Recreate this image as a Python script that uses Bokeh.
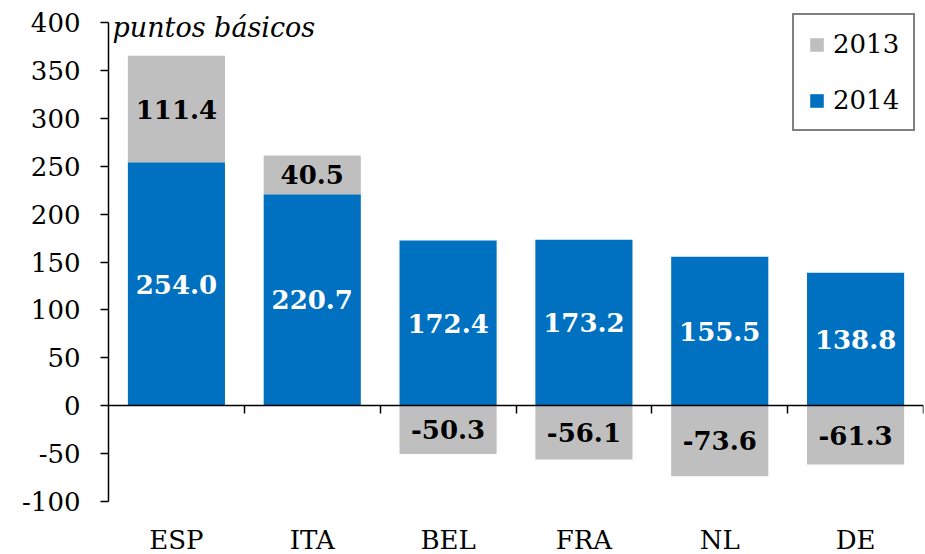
import numpy as np
from bokeh.plotting import figure
from bokeh.models import (Range1d, LinearAxis, FixedTicker, ColumnDataSource,
                          Legend, LegendItem, Label)
from bokeh.embed import file_html
from bokeh.resources import INLINE
from bokeh.core.properties import value

# ---- data ----
categories = ["ESP", "ITA", "BEL", "FRA", "NL", "DE"]
values_2014 = [254.0, 220.7, 172.4, 173.2, 155.5, 138.8]
values_2013 = [111.4, 40.5, -50.3, -56.1, -73.6, -61.3]
y_ticks = [-100, -50, 0, 50, 100, 150, 200, 250, 300, 350, 400]
series_names = ["2013", "2014"]
unit_label = "puntos básicos"

FONT = "DejaVu Serif"
BLUE = "#0070C0"
GRAY = "#BFBFBF"

n = len(categories)
xc = np.arange(n) + 0.5
v14 = np.array(values_2014)
v13 = np.array(values_2013)
g_bottom = np.where(v13 > 0, v14, 0.0)
g_top = g_bottom + v13

src = ColumnDataSource(dict(
    x=xc, v14=v14, v13=v13, g_bottom=g_bottom, g_top=g_top,
    lab14=[f"{v:.1f}" for v in v14], lab13=[f"{v:.1f}" for v in v13],
    y14=v14 / 2, y13=(g_bottom + g_top) / 2,
))

# frame spans the full top of the canvas; axis line limited to [-100, 400]
y_lo, y_hi = y_ticks[0], y_ticks[-1]
px_per_unit = 479 / (y_hi - y_lo)
top_pad_px = 22
y_end = y_hi + top_pad_px / px_per_unit

p = figure(frame_width=815, frame_height=479 + top_pad_px,
           min_border_left=108, min_border_right=2, min_border_top=0, min_border_bottom=0,
           x_range=Range1d(0, n), y_range=Range1d(y_lo, y_end),
           output_backend="svg", toolbar_location=None)
p.xgrid.visible = False
p.ygrid.visible = False
p.outline_line_color = None
p.background_fill_color = "white"
p.border_fill_color = "white"

blue = p.vbar(x="x", top="v14", bottom=0, width=0.715, source=src,
              fill_color=BLUE, line_color=None)
gray = p.vbar(x="x", top="g_top", bottom="g_bottom", width=0.715, source=src,
              fill_color=GRAY, line_color=None)

p.text(x="x", y="y14", text="lab14", source=src, text_color="white",
       text_font=value(FONT), text_font_style="bold", text_font_size="26px",
       text_align="center", text_baseline="middle")
p.text(x="x", y="y13", text="lab13", source=src, text_color="black",
       text_font=value(FONT), text_font_style="bold", text_font_size="26px",
       text_align="center", text_baseline="middle")

# y axis
ya = p.yaxis[0]
ya.bounds = (y_lo, y_hi)
ya.ticker = FixedTicker(ticks=y_ticks)
ya.major_label_overrides = {t: str(t) for t in y_ticks}
ya.minor_tick_line_color = None
ya.major_tick_in = 0
ya.major_tick_out = 8
ya.major_tick_line_width = 1.5
ya.axis_line_width = 1.5
ya.axis_line_color = "black"
ya.major_tick_line_color = "black"
ya.major_label_standoff = 20
ya.major_label_text_font = FONT
ya.major_label_text_font_size = "26px"
ya.major_label_text_color = "black"

# category label axis (bottom)
xa = p.xaxis[0]
xa.ticker = FixedTicker(ticks=list(xc))
xa.major_label_overrides = {float(x): c for x, c in zip(xc, categories)}
xa.axis_line_color = None
xa.major_tick_line_color = None
xa.minor_tick_line_color = None
xa.major_label_standoff = 17
xa.major_label_text_font = FONT
xa.major_label_text_font_size = "26px"
xa.major_label_text_color = "black"

# zero-line axis with ticks between categories
bounds_ticks = list(range(1, n + 1))
za = LinearAxis(fixed_location=0, ticker=FixedTicker(ticks=bounds_ticks))
za.major_label_overrides = {t: "" for t in bounds_ticks}
za.major_label_text_font_size = "10px"
za.major_label_standoff = 0
za.major_tick_in = 0
za.major_tick_out = 8
za.major_tick_line_width = 1.5
za.minor_tick_line_color = None
za.axis_line_width = 1.5
za.axis_line_color = "black"
za.major_tick_line_color = "black"
p.add_layout(za, "below")

# unit label
p.add_layout(Label(x=0, y=y_hi, text=unit_label, x_offset=4, y_offset=-5,
                   text_font=FONT, text_font_style="italic", text_font_size="27px",
                   text_baseline="middle", text_align="left", text_color="black"))

legend = Legend(items=[LegendItem(label=series_names[0], renderers=[gray]),
                       LegendItem(label=series_names[1], renderers=[blue])],
                location=(684, 370))
legend.border_line_color = "black"
legend.border_line_width = 2
legend.background_fill_color = "white"
legend.background_fill_alpha = 1
legend.label_text_font = FONT
legend.label_text_font_size = "26px"
legend.label_text_color = "black"
legend.glyph_width = 17
legend.glyph_height = 17
legend.label_height = 30
legend.label_standoff = 8
legend.padding = 14
legend.spacing = 26
legend.margin = 0
p.add_layout(legend, "center")

open("out.html", "w").write(file_html(p, INLINE))
